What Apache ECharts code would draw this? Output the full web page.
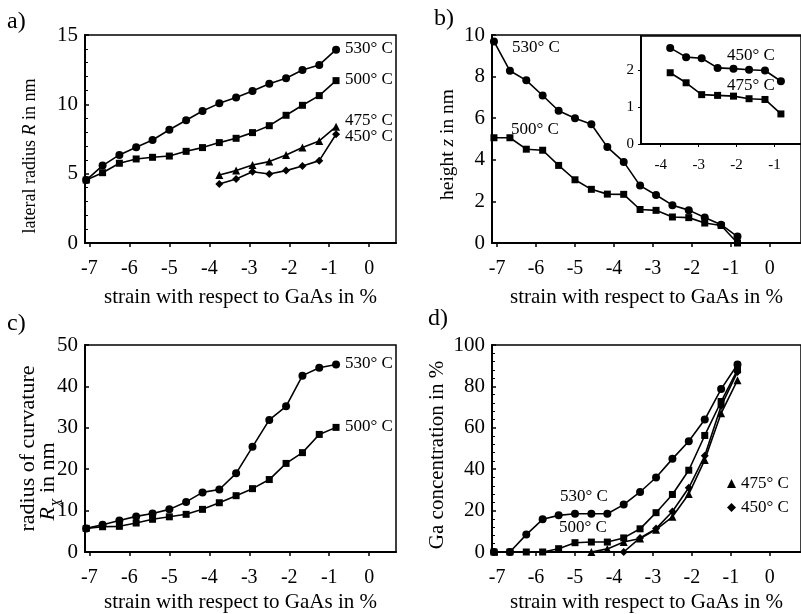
<!DOCTYPE html>
<html>
<head>
<meta charset="utf-8">
<script src="https://cdn.jsdelivr.net/npm/echarts@6/dist/echarts.min.js"></script>
<style>
  html, body { margin: 0; padding: 0; background: #fff; }
  #chart { width: 801px; height: 614px; }
</style>
</head>
<body>
<div id="chart"></div>
<script>
// strain values (same grid for every panel)
var strain = [-7.08, -6.67, -6.25, -5.83, -5.42, -5.00, -4.58, -4.17, -3.75, -3.33, -2.92, -2.50, -2.08, -1.67, -1.25, -0.83]
var xTicks = [-7, -6, -5, -4, -3, -2, -1, 0]
var insetXTicks = [-4, -3, -2, -1]

// a) lateral radius R in nm
var radius530 = [4.54, 5.58, 6.35, 6.90, 7.43, 8.17, 8.85, 9.52, 10.07, 10.50, 10.96, 11.49, 11.88, 12.48, 12.84, 13.94]
var radius500 = [4.54, 5.07, 5.75, 6.06, 6.18, 6.27, 6.61, 6.88, 7.24, 7.55, 7.96, 8.46, 9.21, 9.93, 10.63, 11.71]
var radius475 = [null, null, null, null, null, null, null, null, 4.90, 5.22, 5.63, 5.87, 6.35, 6.88, 7.36, 8.39]
var radius450 = [null, null, null, null, null, null, null, null, 4.25, 4.62, 5.14, 4.98, 5.22, 5.55, 5.94, 7.84]

// b) height z in nm
var height530 = [9.69, 8.28, 7.82, 7.09, 6.36, 6.00, 5.71, 4.61, 3.90, 2.76, 2.31, 1.82, 1.58, 1.23, 0.88, 0.31]
var height500 = [5.06, 5.06, 4.51, 4.46, 3.73, 3.04, 2.58, 2.35, 2.34, 1.61, 1.57, 1.25, 1.22, 0.96, 0.84, 0.00]
// inset of b)
var height450 = [null, null, null, null, null, null, null, null, 2.59, 2.34, 2.31, 2.05, 2.03, 2.00, 1.98, 1.69]
var height475 = [null, null, null, null, null, null, null, null, 1.92, 1.65, 1.33, 1.31, 1.29, 1.22, 1.20, 0.81]

// c) radius of curvature Rx in nm
var curv530 = [5.7, 6.6, 7.6, 8.6, 9.3, 10.3, 12.1, 14.4, 15.1, 19.0, 25.4, 31.9, 35.2, 42.6, 44.5, 45.3]
var curv500 = [5.7, 6.1, 6.2, 7.0, 7.9, 8.5, 9.1, 10.3, 11.9, 13.6, 15.3, 17.5, 21.4, 24.0, 28.4, 30.1]

// d) Ga concentration in %
var ga530 = [0, 0, 8.4, 15.8, 17.7, 18.5, 18.5, 18.5, 22.9, 29.0, 36.0, 45.0, 53.5, 64.0, 78.7, 90.6]
var ga500 = [0, 0, 0, 0, 1.6, 4.5, 4.8, 4.8, 6.8, 11.2, 19.0, 27.8, 39.5, 56.3, 72.7, 88.0]
var ga475 = [null, null, null, null, null, null, 0, 1.5, 4.8, 6.5, 10.8, 17.0, 28.0, 44.5, 67.0, 83.0]
var ga450 = [null, null, null, null, null, null, null, null, 0, 6.8, 11.3, 19.6, 31.0, 46.5, 70.5, 87.0]

var serif = 'Liberation Serif'
var black = '#000'

function pairs(vals) {
  var out = []
  for (var i = 0; i < strain.length; i++) {
    if (vals[i] !== null) out.push([strain[i], vals[i]])
  }
  return out
}

function line(name, vals, symbol, xi, yi, size) {
  return {
    name: name,
    type: 'line',
    xAxisIndex: xi,
    yAxisIndex: yi,
    data: pairs(vals),
    symbol: symbol,
    symbolSize: size || 8,
    showAllSymbol: true,
    lineStyle: { color: black, width: 1.6 },
    itemStyle: { color: black },
    animation: false,
    z: 3
  }
}

function xAx(gi, min, max, name, gap, size) {
  return {
    type: 'value', gridIndex: gi, min: min, max: max,
    name: name, nameLocation: 'middle', nameGap: gap,
    nameTextStyle: { fontFamily: serif, fontSize: size, color: black },
    axisLine: { onZero: false, lineStyle: { color: black, width: 2 } },
    axisTick: { customValues: xTicks, length: 4, lineStyle: { color: black, width: 1.5 } },
    axisLabel: { customValues: xTicks, margin: 16, fontFamily: serif, fontSize: 20, color: black },
    splitLine: { show: false }
  }
}

function yAx(gi, max, interval, name, gap, minor, nameStyle) {
  return {
    type: 'value', gridIndex: gi, min: 0, max: max, interval: interval,
    name: name, nameLocation: 'middle', nameGap: gap,
    nameTextStyle: nameStyle,
    axisLine: { onZero: false, lineStyle: { color: black, width: 2 } },
    axisTick: { inside: true, length: 4, lineStyle: { color: black, width: 1.5 } },
    minorTick: { show: minor > 0, splitNumber: minor || 5, length: 3, lineStyle: { color: black, width: 1 } },
    axisLabel: { margin: 7, fontFamily: serif, fontSize: 21, color: black },
    splitLine: { show: false }
  }
}

function nameStyle(size, shift, rich) {
  return {
    fontFamily: serif, fontSize: size, color: black,
    padding: [0, shift, 0, 0],
    rich: rich || {}
  }
}

function italic(size) {
  return { i: { fontFamily: serif, fontSize: size, fontStyle: 'italic', color: black } }
}

// two-line title of c) with subscript X
var curvRich = {
  t1: { fontFamily: serif, fontSize: 22, color: black, lineHeight: 18 },
  i: { fontFamily: serif, fontSize: 22, fontStyle: 'italic', color: black, padding: [0, 0, 6, 0], verticalAlign: 'top' },
  sub: { fontFamily: serif, fontSize: 14, fontStyle: 'italic', color: black, verticalAlign: 'bottom' },
  e: { fontFamily: serif, fontSize: 22, color: black, padding: [0, 66, 6, 0], verticalAlign: 'top' }
}

function txt(x, y, s, size) {
  return {
    type: 'text', left: x, top: y,
    style: { text: s, fontFamily: serif, fontSize: size || 17, fill: black }
  }
}

var xStrain = 'strain with respect to GaAs in %'

var curvAxis = yAx(3, 50, 10, '{t1|radius of curvature}\n{i|R}{sub|X}{e| in nm}', 20, 0, { rich: curvRich })
curvAxis.nameMoveOverlap = false

var option = {
  backgroundColor: '#fff',
  grid: [
    { left: 85, top: 35, width: 311, height: 208, show: true, borderColor: black, borderWidth: 1.5 },
    { left: 492, top: 35, width: 317, height: 208, show: true, borderColor: black, borderWidth: 1.5 },
    { left: 641, top: 36, width: 162, height: 108, show: true, borderColor: black, borderWidth: 1.5, backgroundColor: '#fff' },
    { left: 85, top: 345, width: 311, height: 207, show: true, borderColor: black, borderWidth: 1.5 },
    { left: 492, top: 345, width: 317, height: 207, show: true, borderColor: black, borderWidth: 1.5 }
  ],
  xAxis: [
    xAx(0, -7.11, 0.67, xStrain, 44, 21),
    xAx(1, -7.13, 0.8, xStrain, 44, 21),
    {
      type: 'value', gridIndex: 2, min: -4.52, max: -0.3,
      axisLine: { onZero: false, lineStyle: { color: black, width: 2 } },
      axisTick: { customValues: insetXTicks, length: 3, lineStyle: { color: black } },
      axisLabel: { customValues: insetXTicks, margin: 14, fontFamily: serif, fontSize: 15, color: black },
      splitLine: { show: false }
    },
    xAx(3, -7.11, 0.67, xStrain, 40, 21),
    xAx(4, -7.13, 0.8, xStrain, 40, 21)
  ],
  yAxis: [
    yAx(0, 15, 5, 'lateral radius {i|R} in nm', 46, 5, nameStyle(18, 34, italic(18))),
    yAx(1, 10, 2, 'height {i|z} in nm', 34, 0, nameStyle(19.5, 11, italic(19.5))),
    {
      type: 'value', gridIndex: 2, min: 0, max: 2.91,
      axisLine: { onZero: false, lineStyle: { color: black, width: 2 } },
      axisTick: { customValues: [0, 1, 2], length: 3, lineStyle: { color: black } },
      axisLabel: { customValues: [0, 1, 2], margin: 7, fontFamily: serif, fontSize: 15, color: black },
      splitLine: { show: false }
    },
    curvAxis,
    yAx(4, 100, 20, 'Ga concentration in %', 44, 5, nameStyle(21, 13))
  ],
  legend: {
    left: 722, top: 470, orient: 'vertical', itemGap: 7,
    itemWidth: 9, itemHeight: 9, selectedMode: false,
    textStyle: { fontFamily: serif, fontSize: 17, color: black },
    data: [{ name: '475° C', icon: 'triangle' }, { name: '450° C', icon: 'diamond' }]
  },
  series: [
    line('a530', radius530, 'circle', 0, 0),
    line('a500', radius500, 'rect', 0, 0, 7),
    line('a475', radius475, 'triangle', 0, 0),
    line('a450', radius450, 'diamond', 0, 0),
    line('b530', height530, 'circle', 1, 1),
    line('b500', height500, 'rect', 1, 1, 7),
    line('i450', height450, 'circle', 2, 2),
    line('i475', height475, 'rect', 2, 2, 7),
    line('c530', curv530, 'circle', 3, 3),
    line('c500', curv500, 'rect', 3, 3, 7),
    line('d530', ga530, 'circle', 4, 4),
    line('d500', ga500, 'rect', 4, 4, 7),
    line('475° C', ga475, 'triangle', 4, 4),
    line('450° C', ga450, 'diamond', 4, 4)
  ],
  graphic: [
    txt(7, 10, 'a)', 24),
    txt(434, 7, 'b)', 24),
    txt(7, 312, 'c)', 24),
    txt(428, 307, 'd)', 24),
    txt(345, 40, '530° C'),
    txt(345, 71, '500° C'),
    txt(345, 112, '475° C'),
    txt(345, 128, '450° C'),
    txt(512, 39, '530° C'),
    txt(511, 121, '500° C'),
    txt(727, 47, '450° C'),
    txt(727, 77, '475° C'),
    txt(345, 355, '530° C'),
    txt(345, 418, '500° C'),
    txt(560, 488, '530° C'),
    txt(559, 519, '500° C')
  ]
}

var chart = echarts.init(document.getElementById('chart'), null, { renderer: 'canvas' })
chart.setOption(option)
</script>
</body>
</html>
